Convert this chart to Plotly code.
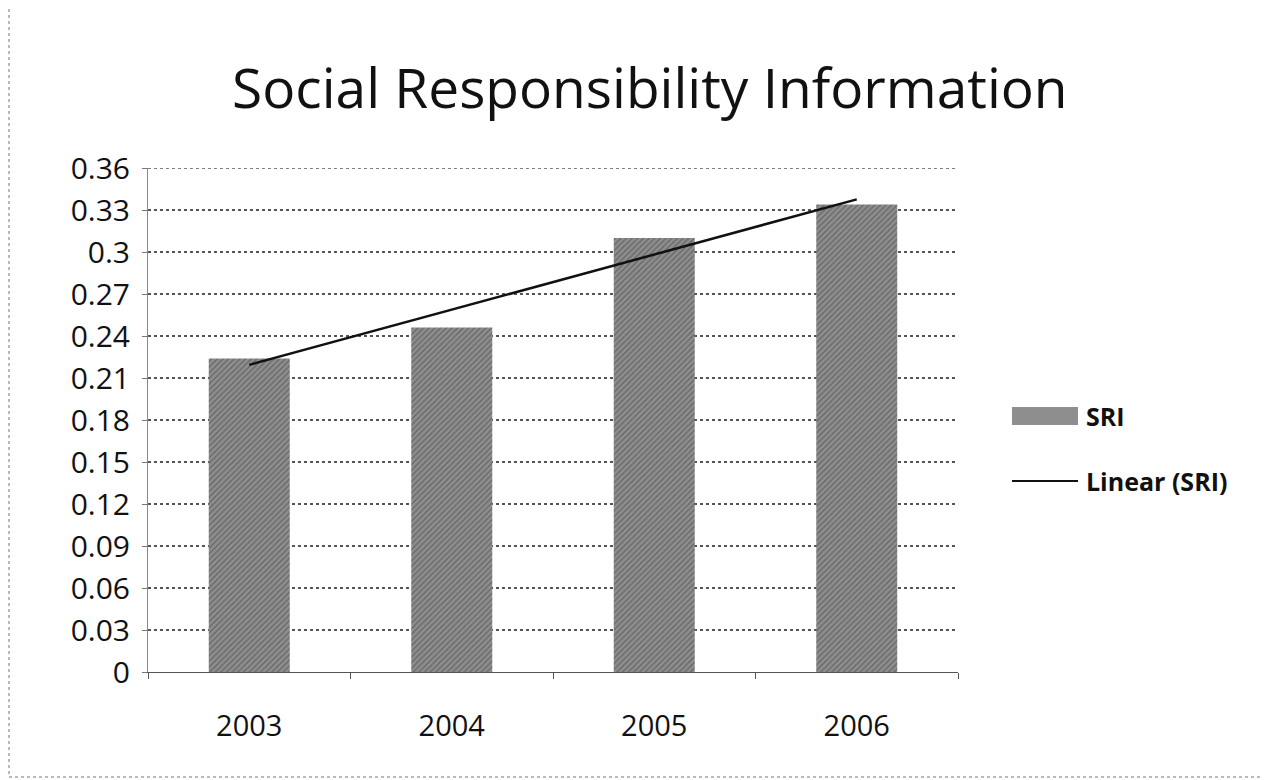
import numpy as np
import plotly.graph_objects as go

years = ["2003", "2004", "2005", "2006"]
sri = [0.224, 0.246, 0.31, 0.334]
y_ticks = [0, 0.03, 0.06, 0.09, 0.12, 0.15, 0.18, 0.21, 0.24, 0.27, 0.3, 0.33, 0.36]
y_tick_text = ["0", "0.03", "0.06", "0.09", "0.12", "0.15", "0.18", "0.21", "0.24", "0.27", "0.3", "0.33", "0.36"]
legend_labels = ["SRI", "Linear (SRI)"]

# linear trendline fitted to the SRI series (as the spreadsheet "Linear (SRI)")
xi = np.arange(1, len(sri) + 1)
slope, intercept = np.polyfit(xi, sri, 1)
trend = list(slope * xi + intercept)

FONT = "Open Sans"
BAR_COLOR = "#8e8e8e"
GRID_COLOR = "#555555"

fig = go.Figure()
fig.add_trace(go.Bar(
    x=years, y=sri, name=legend_labels[0], showlegend=False,
    marker=dict(color=BAR_COLOR, line=dict(width=0),
                pattern=dict(shape="/", fgcolor="#3a3a3a", size=4, solidity=0.3)),
))
fig.add_trace(go.Scatter(
    x=years, y=trend, name=legend_labels[1], mode="lines", showlegend=False,
    line=dict(color="#111111", width=2.5),
))

# plot area on page: x 148..958, y 168..672 (page has 8px body offset)
PW, PH = 810, 504
def px(x):
    return (x - 148) / PW
def py(y):
    return (672 - y) / PH

fig.update_layout(
    width=1271, height=780,
    paper_bgcolor="white", plot_bgcolor="white",
    margin=dict(l=140, r=321, t=160, b=116),
    bargap=0.6,
    title=dict(text="Social Responsibility Information", x=0.505, xanchor="center",
               y=0.897, yanchor="middle",
               font=dict(family=FONT, size=55, color="#111111")),
    font=dict(family=FONT, color="#111111"),
    showlegend=False,
)
fig.update_xaxes(
    type="category", showgrid=False, showline=True, linecolor="#555555", linewidth=1,
    ticks="outside", tickson="boundaries", ticklen=6, tickcolor="#555555",
    tickfont=dict(family=FONT, size=29, color="#111111"),
    ticklabelstandoff=28,
)
fig.update_yaxes(
    range=[0, y_ticks[-1]], tickvals=y_ticks, ticktext=y_tick_text,
    showgrid=True, gridcolor=GRID_COLOR, griddash="dot", gridwidth=1.5,
    showline=True, linecolor="#888888", linewidth=1,
    ticks="outside", ticklen=5, tickcolor="#777777",
    tickfont=dict(family=FONT, size=30, color="#111111"),
    ticklabelstandoff=6, zeroline=False,
)

# top gridline at the edge of the value axis
fig.add_shape(type="line", xref="paper", yref="y", x0=0, x1=1,
              y0=y_ticks[-1], y1=y_ticks[-1],
              line=dict(color=GRID_COLOR, width=1.5, dash="dot"), layer="below")

# custom legend (wide swatch like the original spreadsheet legend)
fig.add_shape(type="rect", xref="paper", yref="paper",
              x0=px(1012), x1=px(1078), y0=py(425), y1=py(407),
              fillcolor=BAR_COLOR, line=dict(width=0))
fig.add_shape(type="line", xref="paper", yref="paper",
              x0=px(1012), x1=px(1078), y0=py(481), y1=py(481),
              line=dict(color="#111111", width=2))
for lbl, yy in zip(legend_labels, [416, 481]):
    fig.add_annotation(text=lbl, xref="paper", yref="paper", x=px(1084), y=py(yy),
                       xanchor="left", yanchor="middle", showarrow=False,
                       font=dict(family=FONT, size=25, color="#111111", weight="bold"))

# chart border
fig.add_shape(type="rect", xref="paper", yref="paper",
              x0=px(9), x1=px(1276), y0=py(777), y1=py(7),
              line=dict(color="#777777", width=1, dash="dot"))

fig.write_html("out.html")
